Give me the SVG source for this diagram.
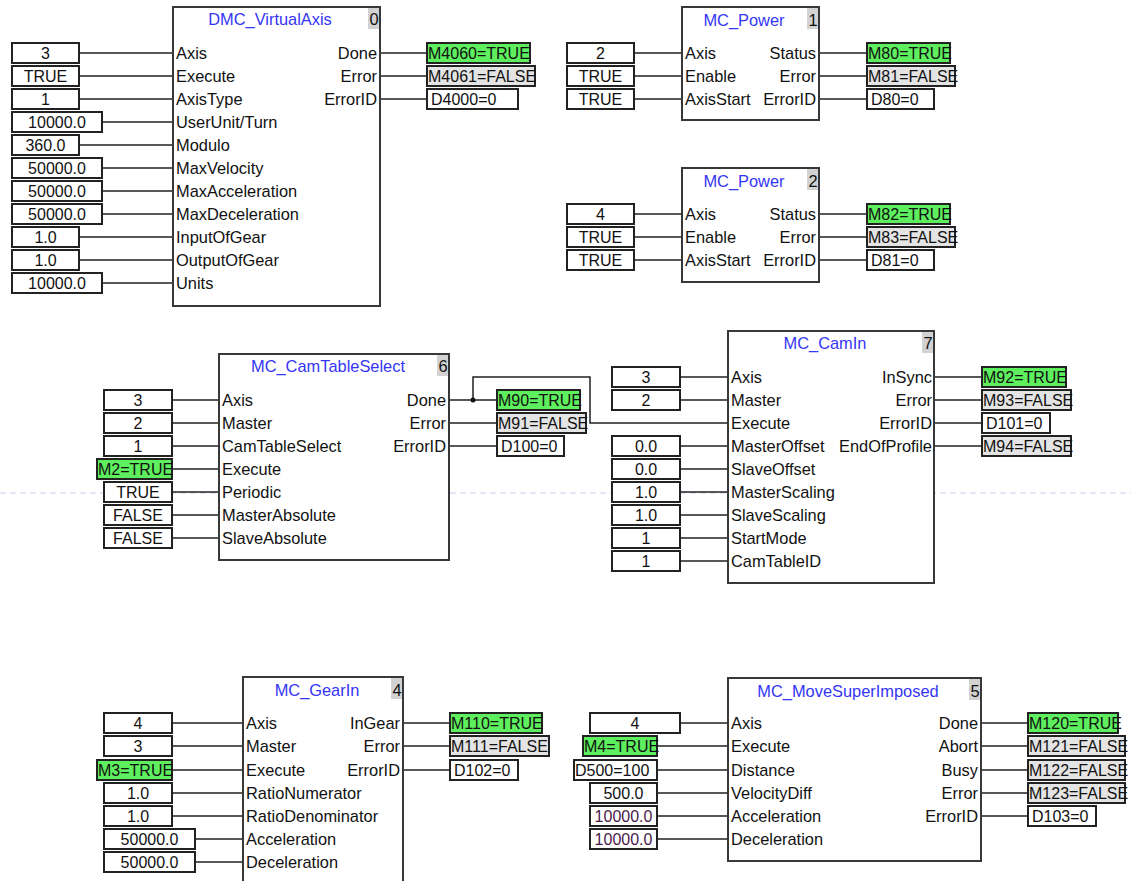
<svg xmlns="http://www.w3.org/2000/svg" width="1131" height="881" viewBox="0 0 1131 881">
<style>
text{font-family:"Liberation Sans",Arial,sans-serif;font-size:16.4px;fill:#111}
.v text{font-size:16px}
.blk{fill:#fff;stroke:#383838;stroke-width:2}
.vb{fill:#fff;stroke:#222;stroke-width:2}
.g{fill:#5eef5e}
.f{fill:#e4e4e4}
.nb{fill:#d2d2d2}
.w{stroke:#222;stroke-width:1.5;fill:none}
.t{fill:#3535f5;text-anchor:middle}
.c{text-anchor:middle}
.r{text-anchor:end}
.p{fill:#4a1a4a}
</style>
<rect width="1131" height="881" fill="#fff"/>
<line x1="0" y1="493" x2="1131" y2="493" stroke="#c9ccef" stroke-width="1.2" stroke-dasharray="6,4"/>

<g id="connectors">
<path class="w" d="M79 53H173M79 76H173M79 99H173M102 122H173M79 145H173M102 168H173M102 191H173M102 214H173M79 237H173M79 260H173M102 283H173"/>
<path class="w" d="M380 53H427M380 76H427M380 99H427"/>
<path class="w" d="M634 53H682M634 76H682M634 99H682M819 53H867M819 76H867M819 99H867"/>
<path class="w" d="M634 214H682M634 237H682M634 260H682M819 214H867M819 237H867M819 260H867"/>
<path class="w" d="M172 400H219M172 423H219M172 446H219M172 469H219M172 492H219M172 515H219M172 538H219"/>
<path class="w" d="M449 400H497M449 423H497M449 446H497"/>
<path class="w" d="M473 400V377H590V423H728"/>
<circle cx="473" cy="400" r="2.5" fill="#111"/>
<path class="w" d="M680 377H728M680 400H728M680 446H728M680 469H728M680 492H728M680 515H728M680 538H728M680 561H728"/>
<path class="w" d="M934 377H982M934 400H982M934 423H982M934 446H982"/>
<path class="w" d="M172 723H243M172 746H243M172 770H243M172 793H243M172 816H243M195 839H243M195 862H243"/>
<path class="w" d="M403 723H450M403 746H450M403 770H450"/>
<path class="w" d="M680 723H728M657 746H728M657 770H728M657 793H728M657 816H728M657 839H728"/>
<path class="w" d="M981 723H1028M981 746H1028M981 770H1028M981 793H1028M981 816H1028"/>
</g>

<g id="node-0">
<rect class="blk" x="173" y="7" width="207" height="299"/>
<rect class="nb" x="368" y="8" width="11" height="21"/>
<text x="374" y="25" class="c">0</text>
<text x="270" y="25" class="t">DMC_VirtualAxis</text>
<text x="176" y="59">Axis</text>
<text x="176" y="82">Execute</text>
<text x="176" y="105">AxisType</text>
<text x="176" y="128">UserUnit/Turn</text>
<text x="176" y="151">Modulo</text>
<text x="176" y="174">MaxVelocity</text>
<text x="176" y="197">MaxAcceleration</text>
<text x="176" y="220">MaxDeceleration</text>
<text x="176" y="243">InputOfGear</text>
<text x="176" y="266">OutputOfGear</text>
<text x="176" y="289">Units</text>
<text x="377" y="59" class="r">Done</text>
<text x="377" y="82" class="r">Error</text>
<text x="377" y="105" class="r">ErrorID</text>
</g>
<g id="vars-0" class="v">
<rect class="vb" x="12" y="43" width="67" height="20"/><text x="45.5" y="59" class="c">3</text>
<rect class="vb" x="12" y="66" width="67" height="20"/><text x="45.5" y="82" class="c">TRUE</text>
<rect class="vb" x="12" y="89" width="67" height="20"/><text x="45.5" y="105" class="c">1</text>
<rect class="vb" x="12" y="112" width="90" height="20"/><text x="57" y="128" class="c">10000.0</text>
<rect class="vb" x="12" y="135" width="67" height="20"/><text x="45.5" y="151" class="c">360.0</text>
<rect class="vb" x="12" y="158" width="90" height="20"/><text x="57" y="174" class="c">50000.0</text>
<rect class="vb" x="12" y="181" width="90" height="20"/><text x="57" y="197" class="c">50000.0</text>
<rect class="vb" x="12" y="204" width="90" height="20"/><text x="57" y="220" class="c">50000.0</text>
<rect class="vb" x="12" y="227" width="67" height="20"/><text x="45.5" y="243" class="c">1.0</text>
<rect class="vb" x="12" y="250" width="67" height="20"/><text x="45.5" y="266" class="c">1.0</text>
<rect class="vb" x="12" y="273" width="90" height="20"/><text x="57" y="289" class="c">10000.0</text>
<rect class="vb g" x="427" y="43" width="103" height="20"/><text x="428" y="59">M4060=TRUE</text>
<rect class="vb f" x="427" y="66" width="108" height="20"/><text x="428" y="82">M4061=FALSE</text>
<rect class="vb" x="427" y="89" width="91" height="20"/><text x="431" y="105">D4000=0</text>
</g>

<g id="node-1">
<rect class="blk" x="682" y="7" width="137" height="113"/>
<rect class="nb" x="807" y="8" width="11" height="21"/>
<text x="813" y="26" class="c">1</text>
<text x="744" y="26" class="t">MC_Power</text>
<text x="685" y="59">Axis</text>
<text x="685" y="82">Enable</text>
<text x="685" y="105">AxisStart</text>
<text x="816" y="59" class="r">Status</text>
<text x="816" y="82" class="r">Error</text>
<text x="816" y="105" class="r">ErrorID</text>
</g>
<g id="vars-1" class="v">
<rect class="vb" x="567" y="43" width="67" height="20"/><text x="600.5" y="59" class="c">2</text>
<rect class="vb" x="567" y="66" width="67" height="20"/><text x="600.5" y="82" class="c">TRUE</text>
<rect class="vb" x="567" y="89" width="67" height="20"/><text x="600.5" y="105" class="c">TRUE</text>
<rect class="vb g" x="867" y="43" width="83" height="20"/><text x="868" y="59">M80=TRUE</text>
<rect class="vb f" x="867" y="66" width="88" height="20"/><text x="868" y="82">M81=FALSE</text>
<rect class="vb" x="867" y="89" width="67" height="20"/><text x="871" y="105">D80=0</text>
</g>

<g id="node-2">
<rect class="blk" x="682" y="168" width="137" height="114"/>
<rect class="nb" x="807" y="169" width="11" height="21"/>
<text x="813" y="187" class="c">2</text>
<text x="744" y="187" class="t">MC_Power</text>
<text x="685" y="220">Axis</text>
<text x="685" y="243">Enable</text>
<text x="685" y="266">AxisStart</text>
<text x="816" y="220" class="r">Status</text>
<text x="816" y="243" class="r">Error</text>
<text x="816" y="266" class="r">ErrorID</text>
</g>
<g id="vars-2" class="v">
<rect class="vb" x="567" y="204" width="67" height="20"/><text x="600.5" y="220" class="c">4</text>
<rect class="vb" x="567" y="227" width="67" height="20"/><text x="600.5" y="243" class="c">TRUE</text>
<rect class="vb" x="567" y="250" width="67" height="20"/><text x="600.5" y="266" class="c">TRUE</text>
<rect class="vb g" x="867" y="204" width="83" height="20"/><text x="868" y="220">M82=TRUE</text>
<rect class="vb f" x="867" y="227" width="88" height="20"/><text x="868" y="243">M83=FALSE</text>
<rect class="vb" x="867" y="250" width="67" height="20"/><text x="871" y="266">D81=0</text>
</g>

<g id="node-6">
<rect class="blk" x="219" y="354" width="230" height="206"/>
<rect class="nb" x="437" y="355" width="11" height="21"/>
<text x="443" y="372" class="c">6</text>
<text x="328" y="372" class="t">MC_CamTableSelect</text>
<text x="222" y="406">Axis</text>
<text x="222" y="429">Master</text>
<text x="222" y="452">CamTableSelect</text>
<text x="222" y="475">Execute</text>
<text x="222" y="498">Periodic</text>
<text x="222" y="521">MasterAbsolute</text>
<text x="222" y="544">SlaveAbsolute</text>
<text x="446" y="406" class="r">Done</text>
<text x="446" y="429" class="r">Error</text>
<text x="446" y="452" class="r">ErrorID</text>
</g>
<g id="vars-6" class="v">
<rect class="vb" x="104" y="390" width="68" height="20"/><text x="138" y="406" class="c">3</text>
<rect class="vb" x="104" y="413" width="68" height="20"/><text x="138" y="429" class="c">2</text>
<rect class="vb" x="104" y="436" width="68" height="20"/><text x="138" y="452" class="c">1</text>
<rect class="vb g" x="97" y="459" width="75" height="20"/><text x="98" y="475">M2=TRUE</text>
<rect class="vb" x="104" y="482" width="68" height="20"/><text x="138" y="498" class="c">TRUE</text>
<rect class="vb" x="104" y="505" width="68" height="20"/><text x="138" y="521" class="c">FALSE</text>
<rect class="vb" x="104" y="528" width="68" height="20"/><text x="138" y="544" class="c">FALSE</text>
<rect class="vb g" x="497" y="390" width="83" height="20"/><text x="498" y="406">M90=TRUE</text>
<rect class="vb f" x="497" y="413" width="89" height="20"/><text x="498" y="429">M91=FALSE</text>
<rect class="vb" x="497" y="436" width="67" height="20"/><text x="501" y="452">D100=0</text>
</g>

<g id="node-7">
<rect class="blk" x="728" y="331" width="206" height="252"/>
<rect class="nb" x="922" y="332" width="11" height="21"/>
<text x="928" y="349" class="c">7</text>
<text x="825" y="349" class="t">MC_CamIn</text>
<text x="731" y="383">Axis</text>
<text x="731" y="406">Master</text>
<text x="731" y="429">Execute</text>
<text x="731" y="452">MasterOffset</text>
<text x="731" y="475">SlaveOffset</text>
<text x="731" y="498">MasterScaling</text>
<text x="731" y="521">SlaveScaling</text>
<text x="731" y="544">StartMode</text>
<text x="731" y="567">CamTableID</text>
<text x="932" y="383" class="r">InSync</text>
<text x="932" y="406" class="r">Error</text>
<text x="932" y="429" class="r">ErrorID</text>
<text x="932" y="452" class="r">EndOfProfile</text>
</g>
<g id="vars-7" class="v">
<rect class="vb" x="612" y="367" width="68" height="20"/><text x="646" y="383" class="c">3</text>
<rect class="vb" x="612" y="390" width="68" height="20"/><text x="646" y="406" class="c">2</text>
<rect class="vb" x="612" y="436" width="68" height="20"/><text x="646" y="452" class="c">0.0</text>
<rect class="vb" x="612" y="459" width="68" height="20"/><text x="646" y="475" class="c">0.0</text>
<rect class="vb" x="612" y="482" width="68" height="20"/><text x="646" y="498" class="c">1.0</text>
<rect class="vb" x="612" y="505" width="68" height="20"/><text x="646" y="521" class="c">1.0</text>
<rect class="vb" x="612" y="528" width="68" height="20"/><text x="646" y="544" class="c">1</text>
<rect class="vb" x="612" y="551" width="68" height="20"/><text x="646" y="567" class="c">1</text>
<rect class="vb g" x="982" y="367" width="84" height="20"/><text x="983" y="383">M92=TRUE</text>
<rect class="vb f" x="982" y="390" width="89" height="20"/><text x="983" y="406">M93=FALSE</text>
<rect class="vb" x="982" y="413" width="68" height="20"/><text x="986" y="429">D101=0</text>
<rect class="vb f" x="982" y="436" width="89" height="20"/><text x="983" y="452">M94=FALSE</text>
</g>

<g id="node-4">
<rect class="blk" x="243" y="677" width="160" height="215"/>
<rect class="nb" x="391" y="678" width="11" height="21"/>
<text x="397" y="696" class="c">4</text>
<text x="317" y="696" class="t">MC_GearIn</text>
<text x="246" y="729">Axis</text>
<text x="246" y="752">Master</text>
<text x="246" y="776">Execute</text>
<text x="246" y="799">RatioNumerator</text>
<text x="246" y="822">RatioDenominator</text>
<text x="246" y="845">Acceleration</text>
<text x="246" y="868">Deceleration</text>
<text x="400" y="729" class="r">InGear</text>
<text x="400" y="752" class="r">Error</text>
<text x="400" y="776" class="r">ErrorID</text>
</g>
<g id="vars-4" class="v">
<rect class="vb" x="104" y="713" width="68" height="20"/><text x="138" y="729" class="c">4</text>
<rect class="vb" x="104" y="736" width="68" height="20"/><text x="138" y="752" class="c">3</text>
<rect class="vb g" x="97" y="760" width="75" height="20"/><text x="98" y="776">M3=TRUE</text>
<rect class="vb" x="104" y="783" width="68" height="20"/><text x="138" y="799" class="c">1.0</text>
<rect class="vb" x="104" y="806" width="68" height="20"/><text x="138" y="822" class="c">1.0</text>
<rect class="vb" x="104" y="829" width="91" height="20"/><text x="149.5" y="845" class="c">50000.0</text>
<rect class="vb" x="104" y="852" width="91" height="20"/><text x="149.5" y="868" class="c">50000.0</text>
<rect class="vb g" x="450" y="713" width="92" height="20"/><text x="451" y="729">M110=TRUE</text>
<rect class="vb f" x="450" y="736" width="99" height="20"/><text x="451" y="752">M111=FALSE</text>
<rect class="vb" x="450" y="760" width="68" height="20"/><text x="454" y="776">D102=0</text>
</g>

<g id="node-5">
<rect class="blk" x="728" y="678" width="253" height="183"/>
<rect class="nb" x="969" y="679" width="11" height="21"/>
<text x="975" y="697" class="c">5</text>
<text x="848" y="697" class="t">MC_MoveSuperImposed</text>
<text x="731" y="729">Axis</text>
<text x="731" y="752">Execute</text>
<text x="731" y="776">Distance</text>
<text x="731" y="799">VelocityDiff</text>
<text x="731" y="822">Acceleration</text>
<text x="731" y="845">Deceleration</text>
<text x="978" y="729" class="r">Done</text>
<text x="978" y="752" class="r">Abort</text>
<text x="978" y="776" class="r">Busy</text>
<text x="978" y="799" class="r">Error</text>
<text x="978" y="822" class="r">ErrorID</text>
</g>
<g id="vars-5" class="v">
<rect class="vb" x="590" y="713" width="90" height="20"/><text x="635" y="729" class="c">4</text>
<rect class="vb g" x="583" y="736" width="74" height="20"/><text x="584" y="752">M4=TRUE</text>
<rect class="vb" x="574" y="760" width="83" height="20"/><text x="575" y="776">D500=100</text>
<rect class="vb" x="590" y="783" width="67" height="20"/><text x="623.5" y="799" class="c">500.0</text>
<rect class="vb" x="590" y="806" width="67" height="20"/><text x="623.5" y="822" class="c p">10000.0</text>
<rect class="vb" x="590" y="829" width="67" height="20"/><text x="623.5" y="845" class="c p">10000.0</text>
<rect class="vb g" x="1028" y="713" width="90" height="20"/><text x="1029" y="729">M120=TRUE</text>
<rect class="vb f" x="1028" y="736" width="97" height="20"/><text x="1029" y="752">M121=FALSE</text>
<rect class="vb f" x="1028" y="760" width="97" height="20"/><text x="1029" y="776">M122=FALSE</text>
<rect class="vb f" x="1028" y="783" width="97" height="20"/><text x="1029" y="799">M123=FALSE</text>
<rect class="vb" x="1028" y="806" width="68" height="20"/><text x="1032" y="822">D103=0</text>
</g>
</svg>
